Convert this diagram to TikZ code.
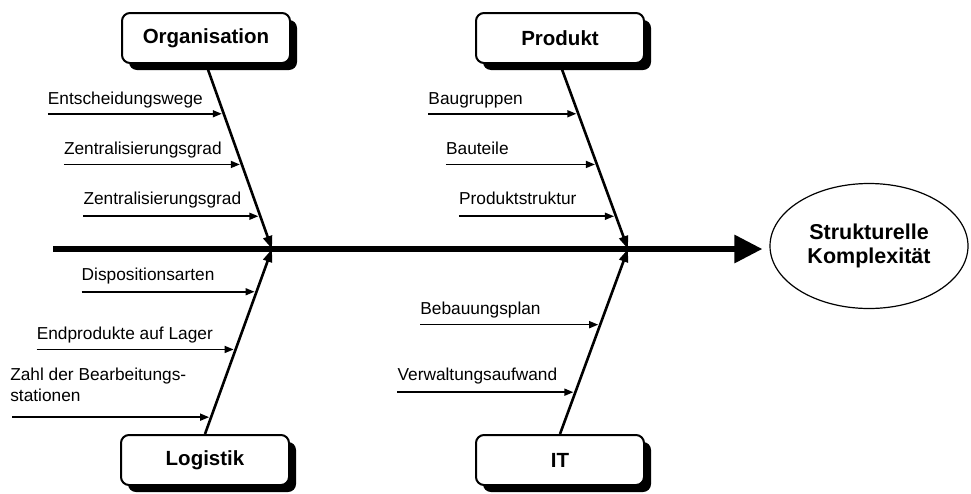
\documentclass[tikz,border=0pt]{standalone}
\usepackage{fontspec}
\setmainfont{Liberation Sans}
\usetikzlibrary{
  arrows.meta,
  positioning,
  shadows,
  shapes.geometric
}

\begin{document}
\begin{tikzpicture}[
  x=1pt,y=-1pt,
  every node/.style={font=\fontsize{17.3}{21}\selectfont},
  cat/.style={draw,line width=2pt,rounded corners=8pt,fill=white,
    minimum width=168pt,minimum height=50pt,inner sep=0pt,
    font=\fontsize{20.5}{24}\selectfont\bfseries,
    drop shadow={shadow xshift=7pt,shadow yshift=-7pt,fill=black,
      opacity=1}},
  effect/.style={ellipse,draw,line width=1.2pt,fill=white,
    minimum width=198pt,minimum height=125pt,inner sep=0pt,align=center,
    font=\fontsize{21.5}{24}\selectfont\bfseries},
  spine/.style={line width=6pt,-{Triangle[length=28pt,width=27pt]},
    shorten >=7pt},
  bone/.style={line width=2.6pt,-{Triangle[length=13pt,width=9pt]}},
  sub/.style={line width=1.6pt,-{Triangle[length=9pt,width=7pt]},
    shorten >=2pt},
  lbl/.style={inner sep=0pt,text depth=0pt,align=left}
]
\useasboundingbox (0,0) rectangle (971,493);

\node[cat] (org) at (206,38) {Organisation};
\node[cat] (prod) at (560,38) {Produkt};
\node[cat] (log) at (205,460) {Logistik};
\node[cat] (it) at (560,460) {IT};
\node[effect] (cplx) at (869,246) {Strukturelle\\Komplexität};

\coordinate (tail) at (53,249);
\coordinate (hubA) at (272,249);
\coordinate (hubB) at (628,249);

\draw[spine] (tail) -- (tail -| cplx.west);
\draw[bone] (org.south) -- (hubA);
\draw[bone] (log.north) -- (hubA);
\draw[bone] (prod.south) -- (hubB);
\draw[bone] (it.north) -- (hubB);

% points on the bones
\path (org.south) -- (hubA) coordinate[pos=.269] (o1)
  coordinate[pos=.543] (o2) coordinate[pos=.823] (o3);
\path (log.north) -- (hubA) coordinate[pos=.769] (l1)
  coordinate[pos=.457] (l2) coordinate[pos=.091] (l3);
\path (prod.south) -- (hubB) coordinate[pos=.269] (p1)
  coordinate[pos=.543] (p2) coordinate[pos=.823] (p3);
\path (it.north) -- (hubB) coordinate[pos=.591] (i1)
  coordinate[pos=.226] (i2);

\coordinate (so1) at ([xshift=-176pt]o1);
\coordinate (so2) at ([xshift=-178pt]o2);
\coordinate (so3) at ([xshift=-177pt]o3);
\coordinate (sl1) at ([xshift=-175pt]l1);
\coordinate (sl2) at ([xshift=-199pt]l2);
\coordinate (sl3) at ([xshift=-199pt]l3);
\coordinate (sp1) at ([xshift=-150pt]p1);
\coordinate (sp2) at ([xshift=-151pt]p2);
\coordinate (sp3) at ([xshift=-157pt]p3);
\coordinate (si1) at ([xshift=-180pt]i1);
\coordinate (si2) at ([xshift=-178pt]i2);

\node[lbl,above right=9pt and 0pt of so1] (to1) {Entscheidungswege};
\node[lbl,above right=10pt and 0pt of so2] (to2) {Zentralisierungsgrad};
\node[lbl,above right=12pt and 0pt of so3] (to3) {Zentralisierungsgrad};
\node[lbl,above right=11pt and 0pt of sl1] (tl1) {Dispositionsarten};
\node[lbl,above right=10pt and 0pt of sl2] (tl2) {Endprodukte auf Lager};
\node[lbl,above right=15pt and -2pt of sl3] (tl3)
  {Zahl der Bearbeitungs-\\stationen};
\node[lbl,above right=9pt and 0pt of sp1] (tp1) {Baugruppen};
\node[lbl,above right=10pt and 0pt of sp2] (tp2) {Bauteile};
\node[lbl,above right=12pt and 0pt of sp3] (tp3) {Produktstruktur};
\node[lbl,above right=10pt and 0pt of si1] (ti1) {Bebauungsplan};
\node[lbl,above right=11pt and 0pt of si2] (ti2) {Verwaltungsaufwand};

\draw[sub] (so1) -- (o1);
\draw[sub] (so2) -- (o2);
\draw[sub] (so3) -- (o3);
\draw[sub] (sl1) -- (l1);
\draw[sub] (sl2) -- (l2);
\draw[sub] (sl3) -- (l3);
\draw[sub] (sp1) -- (p1);
\draw[sub] (sp2) -- (p2);
\draw[sub] (sp3) -- (p3);
\draw[sub] (si1) -- (i1);
\draw[sub] (si2) -- (i2);
\end{tikzpicture}
\end{document}
